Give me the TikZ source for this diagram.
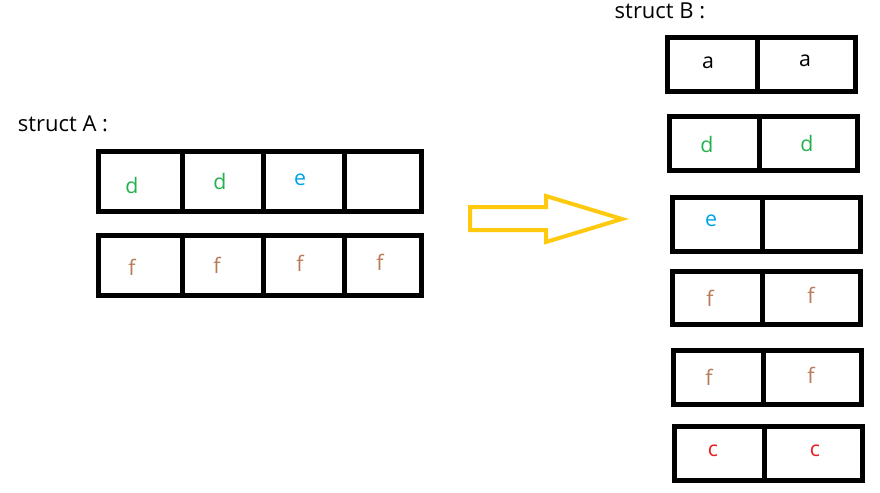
\documentclass[tikz,border=0pt]{standalone}
\usepackage{fontspec}
\setmainfont{Open Sans}
\definecolor{cellgreen}{HTML}{22B14C}
\definecolor{cellblue}{HTML}{00A2E8}
\definecolor{cellbrown}{HTML}{B97A57}
\definecolor{cellred}{HTML}{ED1C24}
\definecolor{arrowgold}{HTML}{FFC90E}
\begin{document}
\begin{tikzpicture}[x=0.75pt,y=-0.75pt,
    rowbox/.style={draw, line width=3.75pt},
    letter/.style={inner sep=0pt, font=\fontsize{16}{19}\selectfont},
    title/.style={inner sep=0pt, font=\fontsize{16.5}{20}\selectfont}]
                    \useasboundingbox (0,0) rectangle (880,492);

                    % struct A
                    \node[title] (titleA) at (63,124) {struct A :};
                    \draw[rowbox] (98,151.5) rectangle (421.5,211);
                    \draw[rowbox] (98,235) rectangle (421.5,295);
                    \foreach \x in {182.5,263.5,344.5}
                        \draw[rowbox] (\x,151.5) -- (\x,211) (\x,235) -- (\x,295);
                    \node[letter, cellgreen] (a1) at (132,185) {d};
                    \node[letter, cellgreen] (a2) at (220,181) {d};
                    \node[letter, cellblue] (a3) at (300,180) {e};
                    \node[letter, cellbrown] (a5) at (132,267) {f};
                    \node[letter, cellbrown] (a6) at (217,265) {f};
                    \node[letter, cellbrown] (a7) at (300,263) {f};
                    \node[letter, cellbrown] (a8) at (380,262) {f};

                    % arrow
                    \draw[line width=3pt, arrowgold, line join=miter]
                        (470,207) -- (546,207) -- (546,196) -- (622,219)
                        -- (546,242) -- (546,230) -- (470,230) -- cycle;

                    % struct B
                    \node[title] (titleB) at (660,11) {struct B :};
                    \draw[rowbox] (667.5,38) rectangle (855,91);
                    \draw[rowbox] (757,38) -- (757,91);
                    \draw[rowbox] (669,116.5) rectangle (857,170.5);
                    \draw[rowbox] (759,116.5) -- (759,170.5);
                    \draw[rowbox] (672,197) rectangle (860,251);
                    \draw[rowbox] (762,197) -- (762,251);
                    \draw[rowbox] (672.5,271.5) rectangle (860.5,324.5);
                    \draw[rowbox] (762,271.5) -- (762,324.5);
                    \draw[rowbox] (673.5,350.5) rectangle (861.5,404.5);
                    \draw[rowbox] (763,350.5) -- (763,404.5);
                    \draw[rowbox] (674.5,426.5) rectangle (862.5,480.5);
                    \draw[rowbox] (764,426.5) -- (764,480.5);
                    \node[letter] (b1) at (708,63) {a};
                    \node[letter] (b2) at (805,61) {a};
                    \node[letter, cellgreen] (b3) at (707,144) {d};
                    \node[letter, cellgreen] (b4) at (807,143) {d};
                    \node[letter, cellblue] (b5) at (711,221) {e};
                    \node[letter, cellbrown] (b7) at (710,298) {f};
                    \node[letter, cellbrown] (b8) at (811,295) {f};
                    \node[letter, cellbrown] (b9) at (709,377) {f};
                    \node[letter, cellbrown] (b10) at (811,375) {f};
                    \node[letter, cellred] (b11) at (713,451) {c};
                    \node[letter, cellred] (b12) at (815,451) {c};

                \end{tikzpicture}
\end{document}
